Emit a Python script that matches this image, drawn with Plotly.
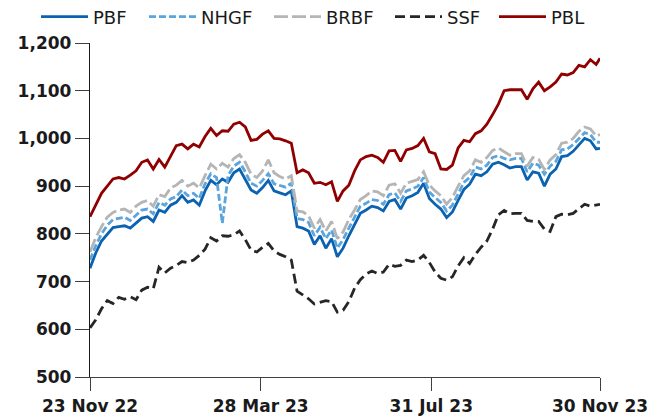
import pandas as pd
import plotly.graph_objects as go

# Sampled trading dates (every 3rd business day, plus the final day)
all_days = pd.bdate_range("2022-11-23", "2023-11-30")
idx = list(range(0, len(all_days) - 1, 3)) + [len(all_days) - 1]
dates = [all_days[i] for i in idx]

pbf = [728, 760, 785, 798, 813, 815, 817, 812, 822, 833,
       836, 826, 850, 845, 860, 866, 880, 866, 871, 860,
       890, 912, 903, 915, 908, 928, 936, 915, 892, 885,
       897, 912, 890, 886, 882, 890, 815, 812, 806, 778,
       796, 770, 790, 752, 770, 796, 818, 843, 850, 858,
       855, 848, 868, 872, 852, 875, 880, 887, 906, 874,
       862, 852, 834, 846, 870, 893, 904, 925, 922, 930,
       946, 950, 945, 938, 941, 941, 913, 930, 927, 900,
       925, 936, 962, 964, 973, 987, 1000, 995, 978, 979]

nhgf = [745, 775, 800, 818, 830, 832, 835, 828, 840, 850,
        852, 842, 866, 860, 873, 878, 892, 880, 885, 874,
        905, 926, 918, 822, 922, 942, 950, 930, 906, 900,
        912, 926, 905, 902, 898, 906, 832, 830, 824, 796,
        814, 790, 808, 770, 788, 812, 834, 858, 864, 872,
        870, 862, 882, 886, 868, 890, 894, 900, 918, 888,
        876, 866, 848, 860, 884, 908, 918, 940, 936, 944,
        960, 964, 958, 955, 958, 958, 930, 948, 944, 925,
        942, 952, 976, 978, 987, 1000, 1012, 1008, 992, 992]

brbf = [762, 792, 815, 835, 845, 850, 852, 845, 858, 866,
        870, 858, 882, 878, 896, 902, 912, 900, 906, 896,
        922, 946, 936, 948, 940, 958, 966, 950, 925, 918,
        932, 955, 928, 920, 915, 922, 848, 846, 838, 812,
        830, 806, 826, 790, 804, 830, 850, 872, 880, 890,
        888, 880, 902, 905, 885, 906, 910, 914, 930, 902,
        890, 880, 862, 876, 900, 922, 932, 955, 950, 960,
        975, 980, 972, 965, 968, 968, 942, 960, 956, 935,
        955, 966, 990, 992, 1000, 1015, 1024, 1020, 1005, 1008]

ssf = [603, 620, 643, 660, 654, 667, 663, 668, 662, 682,
       688, 685, 730, 718, 728, 734, 742, 740, 745, 755,
       768, 792, 785, 796, 795, 798, 806, 788, 766, 762,
       772, 780, 764, 757, 752, 745, 680, 672, 664, 653,
       657, 660, 658, 636, 640, 658, 686, 704, 716, 722,
       717, 720, 736, 732, 734, 745, 742, 745, 755, 740,
       720, 707, 703, 710, 733, 750, 738, 757, 772, 785,
       810, 840, 849, 842, 843, 843, 828, 826, 826, 810,
       805, 836, 841, 840, 843, 852, 862, 858, 861, 862]

pbl = [836, 860, 885, 900, 915, 918, 915, 923, 932, 950,
       955, 936, 956, 940, 962, 985, 988, 978, 988, 982,
       1004, 1021, 1006, 1016, 1015, 1030, 1034, 1024, 996, 998,
       1009, 1016, 1000, 999, 995, 990, 928, 934, 928, 906,
       908, 903, 909, 868, 890, 902, 932, 955, 962, 965,
       960, 950, 974, 975, 952, 976, 979, 985, 1000, 972,
       968, 936, 935, 944, 980, 996, 993, 1010, 1016, 1030,
       1050, 1072, 1100, 1102, 1102, 1102, 1082, 1104, 1118, 1100,
       1108, 1118, 1135, 1133, 1138, 1153, 1150, 1165, 1155, 1168]

tick_dates = ["2022-11-23", "2023-03-28", "2023-07-31", "2023-11-30"]
tick_labels = ["23 Nov 22", "28 Mar 23", "31 Jul 23", "30 Nov 23"]
y_ticks = [500, 600, 700, 800, 900, 1000, 1100, 1200]

series = [
    ("PBF", pbf, "#0b62b0", "solid", 46),
    ("NHGF", nhgf, "#5ba4dc", "7px,3px", 63),
    ("BRBF", brbf, "#b5b5b5", "14px,4px", 59),
    ("SSF", ssf, "#262626", "10px,5px", 42),
    ("PBL", pbl, "#900000", "solid", 40),
]

fig = go.Figure()
for name, vals, color, dash, lw in series:
    fig.add_trace(go.Scatter(
        x=dates, y=vals, name=name, mode="lines",
        line=dict(color=color, width=2.8, dash=dash),
        legendwidth=lw,
    ))

axis_font = dict(family="DejaVu Sans", size=17, color="#1a1a1a", weight="bold")

fig.update_layout(
    width=660, height=418,
    margin=dict(l=90, r=60, t=43, b=41, autoexpand=False),
    paper_bgcolor="white", plot_bgcolor="white",
    showlegend=True,
    legend=dict(
        orientation="h",
        x=(36 - 90) / 510, y=1 + (43 - 17) / 334,
        xanchor="left", yanchor="middle",
        font=dict(family="DejaVu Sans", size=18, color="#1a1a1a"),
        itemwidth=47, bgcolor="rgba(0,0,0,0)",
    ),
    xaxis=dict(
        type="date",
        range=["2022-11-23", "2023-11-30"],
        rangebreaks=[dict(bounds=["sat", "mon"])],
        tickmode="array", tickvals=tick_dates, ticktext=tick_labels,
        showgrid=False, zeroline=False,
        showline=True, linecolor="#404040", linewidth=1.4,
        ticks="outside", ticklen=13, tickwidth=1.4, tickcolor="#404040",
        tickfont=axis_font, automargin=False,
    ),
    yaxis=dict(
        range=[500, 1200],
        tickmode="array", tickvals=y_ticks,
        tickformat=",d",
        showgrid=False, zeroline=False,
        showline=True, linecolor="#1a1a1a", linewidth=1.4,
        ticks="outside", ticklen=14, tickwidth=1.4, tickcolor="#404040",
        tickfont=axis_font, automargin=False,
    ),
)

fig.write_html(
    "out.html",
    config={"displayModeBar": False},
    post_script="document.body.style.margin='0';",
)
